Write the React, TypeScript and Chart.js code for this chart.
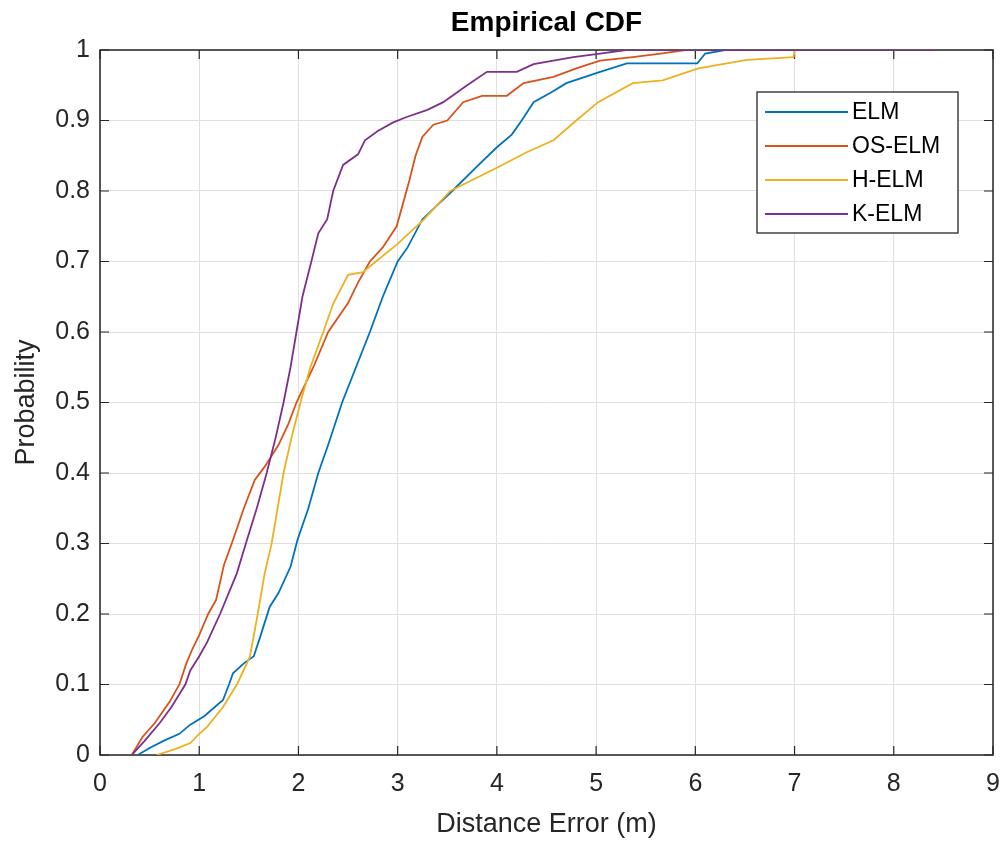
import React, { useEffect, useRef } from "react";
import { Chart, registerables } from "chart.js";

Chart.register(...registerables);

const chartTitle = "Empirical CDF";
const xAxisTitle = "Distance Error (m)";
const yAxisTitle = "Probability";

const seriesNames = ["ELM", "OS-ELM", "H-ELM", "K-ELM"];
const seriesColors = ["#0072BD", "#D95319", "#EDB120", "#7E2F8E"];

const xTickValues = [0, 1, 2, 3, 4, 5, 6, 7, 8, 9];
const xTickLabels = ["0", "1", "2", "3", "4", "5", "6", "7", "8", "9"];
const yTickValues = [0, 0.1, 0.2, 0.3, 0.4, 0.5, 0.6, 0.7, 0.8, 0.9, 1];
const yTickLabels = ["0", "0.1", "0.2", "0.3", "0.4", "0.5", "0.6", "0.7", "0.8", "0.9", "1"];

const elmX = [0.38, 0.5, 0.64, 0.8, 0.91, 1.05, 1.24, 1.3, 1.34, 1.45, 1.55, 1.62, 1.71, 1.8, 1.92, 1.99, 2.1, 2.2, 2.3, 2.44, 2.58, 2.72, 2.85, 3.0, 3.1, 3.25, 3.4, 3.55, 3.8, 4.0, 4.15, 4.25, 4.37, 4.55, 4.7, 5.04, 5.31, 6.02, 6.1, 6.3, 7.0];
const elmY = [0, 0.01, 0.02, 0.03, 0.043, 0.055, 0.078, 0.1, 0.116, 0.13, 0.14, 0.17, 0.21, 0.23, 0.267, 0.305, 0.35, 0.4, 0.44, 0.5, 0.55, 0.6, 0.65, 0.7, 0.72, 0.76, 0.78, 0.8, 0.835, 0.862, 0.88, 0.9, 0.926, 0.94, 0.953, 0.969, 0.981, 0.981, 0.995, 1.0, 1.0];

const osElmX = [0.32, 0.43, 0.55, 0.7, 0.8, 0.87, 0.93, 1.0, 1.09, 1.17, 1.25, 1.34, 1.45, 1.56, 1.66, 1.8, 1.9, 1.98, 2.15, 2.3, 2.5, 2.6, 2.72, 2.85, 2.99, 3.12, 3.18, 3.25, 3.36, 3.5, 3.66, 3.85, 4.1, 4.27, 4.57, 4.8, 5.04, 5.37, 5.65, 5.9, 7.4];
const osElmY = [0, 0.026, 0.045, 0.075, 0.1, 0.13, 0.15, 0.17, 0.2, 0.22, 0.27, 0.305, 0.35, 0.39, 0.409, 0.44, 0.47, 0.5, 0.55, 0.6, 0.641, 0.67, 0.7, 0.72, 0.75, 0.816, 0.85, 0.877, 0.894, 0.9, 0.926, 0.935, 0.935, 0.953, 0.962, 0.974, 0.985, 0.99, 0.995, 1.0, 1.0];

const hElmX = [0.57, 0.75, 0.91, 1.0, 1.08, 1.24, 1.38, 1.51, 1.59, 1.66, 1.73, 1.79, 1.85, 1.93, 2.02, 2.12, 2.25, 2.35, 2.5, 2.65, 2.78, 3.0, 3.26, 3.53, 4.0, 4.3, 4.57, 4.8, 5.02, 5.37, 5.67, 6.03, 6.52, 6.99, 7.0];
const hElmY = [0, 0.008, 0.017, 0.03, 0.04, 0.068, 0.1, 0.139, 0.2, 0.258, 0.3, 0.35, 0.4, 0.45, 0.5, 0.55, 0.6, 0.64, 0.681, 0.685, 0.7, 0.725, 0.759, 0.8, 0.833, 0.855, 0.872, 0.9, 0.926, 0.953, 0.957, 0.974, 0.986, 0.99, 1.0];

const kElmX = [0.32, 0.45, 0.6, 0.72, 0.86, 0.91, 1.0, 1.08, 1.21, 1.38, 1.47, 1.58, 1.68, 1.77, 1.85, 1.92, 1.98, 2.04, 2.13, 2.2, 2.29, 2.35, 2.45, 2.6, 2.67, 2.8, 2.95, 3.09, 3.3, 3.46, 3.7, 3.9, 4.2, 4.37, 4.77, 5.04, 5.3, 8.45];
const kElmY = [0, 0.02, 0.045, 0.068, 0.1, 0.12, 0.14, 0.16, 0.2, 0.258, 0.3, 0.35, 0.4, 0.45, 0.5, 0.55, 0.6, 0.65, 0.7, 0.74, 0.76, 0.8, 0.837, 0.852, 0.872, 0.885, 0.897, 0.905, 0.915, 0.926, 0.95, 0.969, 0.969, 0.98, 0.99, 0.995, 1.0, 1.0];

const seriesX = [elmX, osElmX, hElmX, kElmX];
const seriesY = [elmY, osElmY, hElmY, kElmY];

const FONT = "'Liberation Sans', Arial, Helvetica, sans-serif";
const AXIS_COLOR = "#262626";

const framePlugin = {
  id: "matlabFrame",
  beforeDatasetsDraw(chart: any) {
    const { ctx, chartArea, scales } = chart;
    const { left, right, top, bottom } = chartArea;
    ctx.save();
    ctx.strokeStyle = AXIS_COLOR;
    ctx.lineWidth = 1.5;
    ctx.strokeRect(left, top, right - left, bottom - top);
    const tl = 9;
    ctx.lineWidth = 1.2;
    ctx.beginPath();
    xTickValues.forEach((v) => {
      const px = scales.x.getPixelForValue(v);
      ctx.moveTo(px, bottom);
      ctx.lineTo(px, bottom - tl);
      ctx.moveTo(px, top);
      ctx.lineTo(px, top + tl);
    });
    yTickValues.forEach((v) => {
      const py = scales.y.getPixelForValue(v);
      ctx.moveTo(left, py);
      ctx.lineTo(left + tl, py);
      ctx.moveTo(right, py);
      ctx.lineTo(right - tl, py);
    });
    ctx.stroke();
    ctx.restore();
  },
  afterDraw(chart: any) {
    const { ctx, chartArea } = chart;
    ctx.save();
    ctx.fillStyle = "#000000";
    ctx.font = `bold 28px ${FONT}`;
    ctx.textAlign = "center";
    ctx.textBaseline = "middle";
    ctx.fillText(chartTitle, (chartArea.left + chartArea.right) / 2, 23);
    const bx = 757, by = 92, bw = 201, bh = 141;
    ctx.fillStyle = "#ffffff";
    ctx.fillRect(bx, by, bw, bh);
    ctx.strokeStyle = AXIS_COLOR;
    ctx.lineWidth = 1.3;
    ctx.strokeRect(bx, by, bw, bh);
    ctx.font = `23px ${FONT}`;
    ctx.textAlign = "left";
    ctx.textBaseline = "middle";
    chart.data.datasets.forEach((ds: any, i: number) => {
      const y = by + 20 + i * 34;
      ctx.strokeStyle = ds.borderColor;
      ctx.lineWidth = 1.8;
      ctx.beginPath();
      ctx.moveTo(bx + 8, y);
      ctx.lineTo(bx + 91, y);
      ctx.stroke();
      ctx.fillStyle = "#000000";
      ctx.fillText(ds.label, bx + 95, y + 1);
    });
    ctx.restore();
  },
};

export default function App() {
  const canvasRef = useRef<HTMLCanvasElement | null>(null);

  useEffect(() => {
    if (!canvasRef.current) return;
    const datasets = seriesNames.map((name, i) => ({
      label: name,
      data: seriesX[i].map((x, j) => ({ x, y: seriesY[i][j] })),
      borderColor: seriesColors[i],
      backgroundColor: seriesColors[i],
      borderWidth: 1.8,
      pointRadius: 0,
      fill: false,
      tension: 0,
      order: seriesNames.length - 1 - i,
    }));
    const chart = new Chart(canvasRef.current, {
      type: "line",
      data: { datasets },
      options: {
        animation: false,
        responsive: false,
        maintainAspectRatio: false,
        layout: { padding: { left: 0, right: 15, top: 50, bottom: 0 } },
        plugins: {
          legend: { display: false },
          title: { display: false },
          tooltip: { enabled: false },
        },
        scales: {
          x: {
            type: "linear",
            min: 0,
            max: 9,
            afterBuildTicks: (s: any) => {
              s.ticks = xTickValues.map((v) => ({ value: v }));
            },
            afterFit: (s: any) => {
              s.height = 91;
              s.paddingRight = 0;
              s.paddingLeft = 0;
            },
            ticks: {
              autoSkip: false,
              maxRotation: 0,
              padding: 14,
              color: AXIS_COLOR,
              font: { family: FONT, size: 25 },
              callback: (_v: any, i: number) => xTickLabels[i],
            },
            grid: { color: "#dfdfdf", lineWidth: 1, drawTicks: false },
            border: { display: false },
            title: {
              display: true,
              text: xAxisTitle,
              color: AXIS_COLOR,
              font: { family: FONT, size: 27 },
              padding: { top: 0, bottom: 5 },
            },
          },
          y: {
            type: "linear",
            min: 0,
            max: 1,
            afterBuildTicks: (s: any) => {
              s.ticks = yTickValues.map((v) => ({ value: v }));
            },
            afterFit: (s: any) => {
              s.width = 100;
              s.paddingTop = 0;
              s.paddingBottom = 0;
            },
            ticks: {
              autoSkip: false,
              padding: 10,
              color: AXIS_COLOR,
              font: { family: FONT, size: 25 },
              callback: (_v: any, i: number) => yTickLabels[i],
            },
            grid: { color: "#dfdfdf", lineWidth: 1, drawTicks: false },
            border: { display: false },
            title: {
              display: true,
              text: yAxisTitle,
              color: AXIS_COLOR,
              font: { family: FONT, size: 27 },
              padding: { top: 10, bottom: 0 },
            },
          },
        },
      },
      plugins: [framePlugin],
    });
    return () => chart.destroy();
  }, []);

  return (
    <div style={{ position: "absolute", left: 0, top: 0, width: 1008, height: 846, background: "#ffffff" }}>
      <canvas ref={canvasRef} width={1008} height={846} style={{ width: 1008, height: 846, display: "block" }} />
    </div>
  );
}
